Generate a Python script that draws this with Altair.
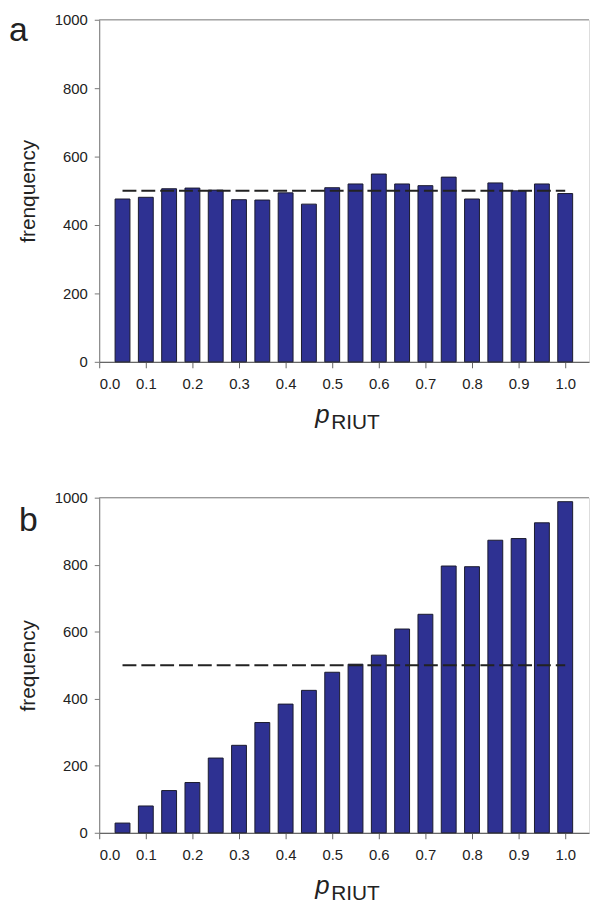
import altair as alt
import pandas as pd

# ---- data ----
p_values = [0.05, 0.10, 0.15, 0.20, 0.25, 0.30, 0.35, 0.40, 0.45, 0.50,
            0.55, 0.60, 0.65, 0.70, 0.75, 0.80, 0.85, 0.90, 0.95, 1.00]
freq_a = [476, 481, 506, 508, 502, 474, 473, 494, 461, 509,
          520, 549, 520, 515, 540, 476, 523, 500, 520, 492]
freq_b = [29, 80, 126, 150, 223, 261, 329, 384, 425, 479,
          503, 530, 608, 652, 796, 794, 873, 878, 925, 988]
ref_x = [0.05, 1.00]
ref_y = [500, 500]
x_ticks = [0.0, 0.1, 0.2, 0.3, 0.4, 0.5, 0.6, 0.7, 0.8, 0.9, 1.0]
y_ticks = [0, 200, 400, 600, 800, 1000]
y_titles = ["frenquency", "frequency"]
panel_labels = ["a", "b"]
x_title_p = "p"
x_title_rest = "RIUT"

FONT = "Liberation Sans"
BAR = "#2E3192"
W = 494
XMAX = W / 470.0


def panel(freqs, ytitle, label, height, label_x, label_y):
    df = pd.DataFrame({"p": p_values, "f": freqs})
    xs = alt.Scale(domain=[0, XMAX], nice=False, zero=False, padding=0)
    ys = alt.Scale(domain=[0, 1000], nice=False, padding=0)
    xaxis = alt.Axis(values=x_ticks, format=".1f", title=None, grid=False,
                     domainColor="#666", domainWidth=1.3, tickColor="#666",
                     tickSize=6, labelPadding=9, labelFont=FONT, labelFontSize=15,
                     labelColor="#222")
    yaxis = alt.Axis(values=y_ticks, format="d", title=ytitle, grid=False,
                     domainColor="#777", tickColor="#777", tickSize=5,
                     labelPadding=7, labelFont=FONT, labelFontSize=15,
                     labelColor="#222", titleFont=FONT, titleFontSize=21,
                     titleFontWeight="normal", titleColor="#222", titlePadding=16)
    bars = alt.Chart(df).mark_bar(size=15, color=BAR, stroke="#1a1a2e",
                                  strokeWidth=1).encode(
        x=alt.X("p:Q", scale=xs, axis=xaxis),
        y=alt.Y("f:Q", scale=ys, axis=yaxis),
    )
    ref = alt.Chart(pd.DataFrame({"p": ref_x, "f": ref_y})).mark_line(
        color="#222", strokeWidth=2, strokeDash=[14, 5]
    ).encode(x="p:Q", y="f:Q")
    one = pd.DataFrame({"v": [0]})
    top = alt.Chart(one).mark_rule(color="#888", strokeWidth=1).encode(
        y=alt.datum(1000), x=alt.value(0), x2=alt.value(W)
    )
    lab = alt.Chart(one).mark_text(text=label, font=FONT, fontSize=34,
                                   align="left", baseline="alphabetic",
                                   color="#222").encode(
        x=alt.value(label_x), y=alt.value(label_y)
    )
    title_y = height + 68
    tp = alt.Chart(one).mark_text(text=x_title_p, font=FONT, fontSize=26,
                                  fontStyle="italic", align="left",
                                  baseline="alphabetic", color="#222").encode(
        x=alt.value(218), y=alt.value(title_y - 6.5)
    )
    tr = alt.Chart(one).mark_text(text=x_title_rest, font=FONT, fontSize=21,
                                  align="left", baseline="alphabetic",
                                  color="#222").encode(
        x=alt.value(234), y=alt.value(title_y)
    )
    return alt.layer(bars, ref, top, lab, tp, tr).properties(width=W, height=height)


pa = panel(freq_a, y_titles[0], panel_labels[0], 345, -91, 21)
pb = panel(freq_b, y_titles[1], panel_labels[1], 338, -81, 34)

chart = alt.vconcat(pa, pb, spacing=56).properties(padding=0).configure_view(
    stroke=None
).configure(background="white")

chart.save("out.html", embed_options={"renderer": "svg", "actions": False})
